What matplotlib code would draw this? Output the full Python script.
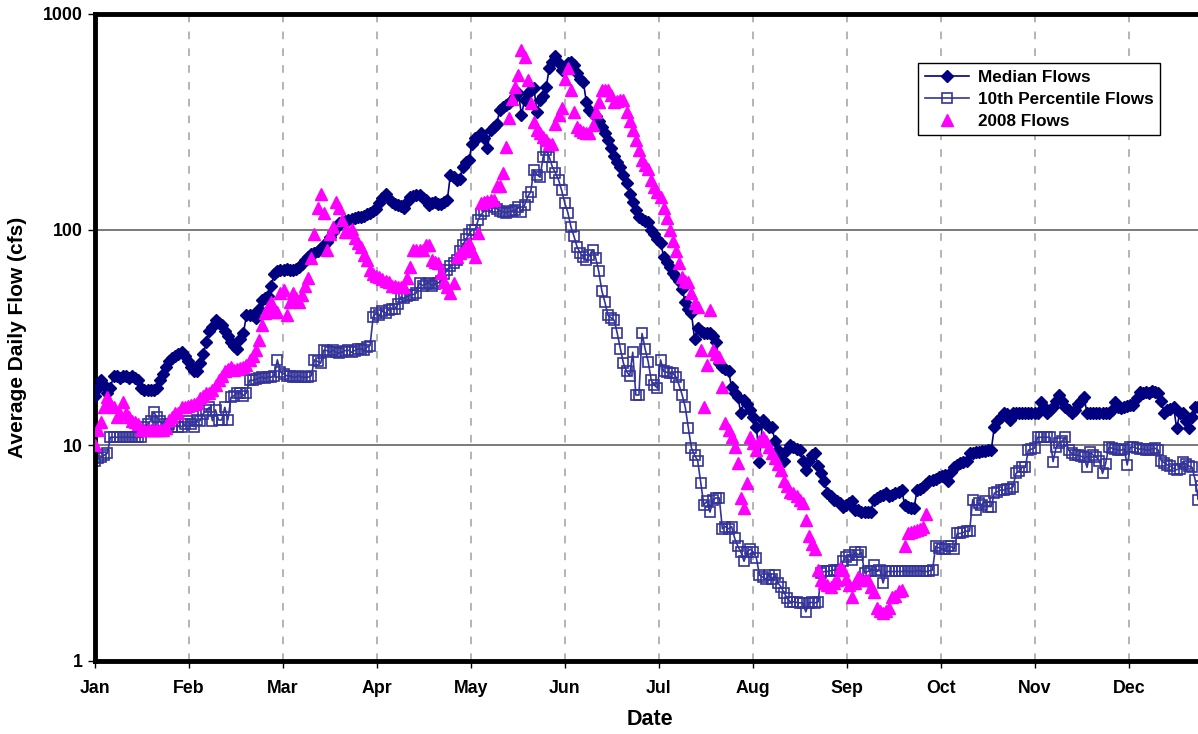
import numpy as np
import matplotlib.pyplot as plt

plt.rcParams['font.family'] = ['Liberation Sans', 'DejaVu Sans']
plt.rcParams['font.weight'] = 'bold'

months = ['Jan', 'Feb', 'Mar', 'Apr', 'May', 'Jun',
          'Jul', 'Aug', 'Sep', 'Oct', 'Nov', 'Dec']

# daily median flows, day 0 = Jan 1
median_flows = [
    17, 18.5, 20, 19, 17.5, 18.5, 21, 21, 20.5, 21,
    21, 20.5, 21, 20.5, 20, 18.5, 18, 18, 18, 18,
    18.5, 20, 21.5, 23, 24.5, 25.5, 26, 26.5, 27, 26,
    24.5, 23, 22, 22, 24, 26.5, 30, 34, 35.5, 38,
    37, 36, 34, 32, 30, 29, 28, 31, 33, 40,
    40, 40, 39, 43, 47, 48, 49, 55, 62, 64,
    65, 65, 66, 65, 65, 66, 67, 69, 72, 75,
    77, 78, 80, 82, 85, 88, 92, 97, 102, 107,
    108, 110, 111, 112, 113, 114, 115, 116, 118, 119,
    122, 125, 133, 140, 147, 138, 135, 132, 130, 128,
    126, 135, 141, 143, 144, 145, 140, 137, 130, 133,
    134, 132, 131, 134, 137, 180, 175, 170, 172, 195,
    205, 210, 250, 265, 270, 280, 265, 240, 290, 300,
    310, 360, 370, 380, 385, 400, 415, 430, 340, 400,
    430, 445, 455, 350, 400, 415, 460, 560, 600, 640,
    595, 550, 570, 590, 600, 580, 530, 500, 485, 390,
    360, 345, 335, 320, 300, 280, 260, 240, 220, 205,
    195, 180, 165, 147, 135, 123, 115, 112, 110, 108,
    100, 95, 90, 87, 75, 71, 67, 63, 60, 58,
    53, 46, 43, 41, 31, 35, 34, 33, 33, 33,
    32, 30, 24, 23, 22.5, 22, 18.6, 17.5, 16.7, 14.1,
    16.2, 15.5, 14.6, 13.5, 12.2, 8.4, 13.1, 12.5, 12.2, 12.2,
    10.5, 9.5, 9, 8.5, 9.5, 10, 9.8, 9.6, 9.5, 8.5,
    7.7, 8.5, 9, 9.2, 8, 7.4, 6.8, 6.0, 5.8, 5.6,
    5.5, 5.4, 5.2, 5.3, 5.4, 5.5, 5.0, 5.0, 4.9, 4.9,
    4.9, 4.9, 5.6, 5.7, 5.8, 5.9, 6.0, 5.8, 5.9, 6.0,
    6.1, 6.2, 5.3, 5.2, 5.1, 5.1, 6.2, 6.3, 6.4, 6.6,
    6.8, 6.9, 7.0, 7.1, 7.2, 7.3, 6.8, 7.5, 7.9, 8.1,
    8.3, 8.4, 8.5, 9.2, 9.2, 9.3, 9.3, 9.4, 9.4, 9.5,
    9.5, 12.2, 13, 13.5, 14.1, 14, 13.1, 14.1, 14.1, 14.1,
    14.1, 14.1, 14.1, 14.1, 14.1, 14.1, 15.9, 15, 14.1, 14.5,
    15, 16, 17.1, 16, 15, 14.5, 14.1, 14.5, 15.5, 16,
    16.7, 14.1, 14.1, 14.1, 14.1, 14.1, 14.1, 14.1, 14.1, 14.5,
    15.9, 15, 14.9, 15, 15.2, 15.3, 15.4, 16.5, 17.7, 17.5,
    17.7, 17.5, 17.8, 17.6, 17.5, 16, 14.1, 14.5, 14.8, 15,
    12, 14.1, 14.1, 13, 12, 13.5, 15, 15, 15.5, 15,
    15, 15.5, 16, 16, 16,
]

# daily 10th percentile flows
p10_flows = [
    8.5, 8.7, 8.8, 9.0, 9.2, 10.9, 10.9, 10.9, 10.9, 10.9,
    10.9, 10.9, 10.9, 10.9, 10.9, 10.9, 12.2, 12.5, 13, 14.3,
    13.5, 13, 12.5, 12.2, 12.5, 12.2, 13, 12.2, 12.2, 12.5,
    13, 12.5, 12.2, 13.1, 13, 14, 14.5, 15, 13, 14.6,
    13.1, 13.1, 15, 13.1, 16.7, 17, 17.5, 17.5, 17, 17.5,
    20, 20, 20.2, 20.5, 20.7, 20.5, 20.7, 20.7, 21, 24.9,
    21.9, 21.5, 21, 21, 20.7, 20.7, 21, 20.7, 20.7, 20.7,
    21, 24.9, 24.5, 24, 27.6, 27.5, 27, 27.6, 27, 26.8,
    27, 27.5, 27.6, 27, 27.5, 28, 28, 27.6, 28.5, 29,
    39.4, 41, 40, 42, 41, 42.5, 43, 43, 45, 48.7,
    48, 49, 50, 50, 50.9, 56.6, 55, 56, 56.6, 55,
    56, 56.6, 58, 62, 65, 68, 70, 72, 80, 85,
    90, 95, 100, 100, 111, 118, 122, 128, 133, 127,
    125, 122, 121, 120, 121, 122, 123, 127, 121, 130,
    142, 150, 189, 180, 175, 217, 233, 217, 195, 183,
    170, 152, 133, 120, 103, 93, 83, 78, 75, 72,
    76, 80.6, 74, 64, 52, 46, 40, 39, 38, 33,
    28, 24, 22, 21, 27, 17.1, 17.1, 33, 28, 24.4,
    20, 19, 18.4, 24.9, 22, 21.8, 21.6, 21.6, 20.7, 19,
    17.1, 15, 12, 9.7, 9, 8.5, 6.7, 5.3, 5.5, 4.9,
    5.6, 5.7, 5.7, 4.1, 4.2, 4.1, 4.2, 3.7, 3.4, 3.2,
    2.9, 3.2, 3.3, 3.2, 3.0, 2.5, 2.45, 2.4, 2.5, 2.4,
    2.5, 2.3, 2.2, 2.07, 1.95, 1.88, 1.88, 1.87, 1.86, 1.86,
    1.69, 1.86, 1.87, 1.86, 1.88, 2.56, 2.6, 2.6, 2.62, 2.64,
    2.64, 2.6, 2.9, 3.04, 3.1, 2.94, 3.2, 3.1, 3.2, 2.56,
    2.6, 2.62, 2.79, 2.6, 2.64, 2.3, 2.6, 2.6, 2.6, 2.6,
    2.6, 2.6, 2.62, 2.6, 2.6, 2.6, 2.62, 2.62, 2.6, 2.6,
    2.62, 2.64, 3.4, 3.35, 3.3, 3.3, 3.4, 3.4, 3.3, 3.9,
    3.9, 3.95, 4.0, 4.0, 5.6, 5.0, 5.4, 5.3, 5.5, 5.2,
    5.2, 6.0, 6.1, 6.2, 6.2, 6.3, 6.3, 6.4, 7.4, 7.6,
    7.9, 7.9, 9.5, 9.6, 9.7, 10.9, 10.9, 10.9, 10.9, 10.9,
    8.4, 9.8, 10.2, 10.5, 10.9, 9.5, 9.2, 9.0, 9.0, 8.9,
    8.8, 7.9, 9.3, 9.0, 8.8, 8.5, 7.4, 8.2, 9.8, 9.7,
    9.6, 9.5, 9.5, 9.6, 8.1, 9.8, 9.8, 9.7, 9.6, 9.6,
    9.5, 9.5, 9.6, 9.7, 9.5, 8.5, 8.3, 8.1, 8.0, 7.8,
    7.7, 7.8, 8.4, 8.2, 8.0, 7.9, 6.9, 5.6, 6.5, 7,
    7, 7, 7, 7, 7,
]

# 2008 daily flows (record ends late September)
flows_2008 = [
    10, 11.8, 12.8, 15, 16.7, 15.5, 15, 13.5, 14, 15.9,
    14.1, 13.5, 13, 12.8, 12.5, 11.8, 11.8, 11.8, 11.8, 11.8,
    11.8, 11.8, 11.8, 12, 13.1, 13.5, 14.1, 14.1, 15, 15,
    15.2, 15.4, 15.6, 15.7, 16.5, 17, 17.5, 17.5, 18, 19,
    20, 21, 22, 22.5, 23, 22.4, 22.5, 22.8, 23, 23.5,
    24.9, 26, 27.6, 30.9, 36.3, 41, 44, 46, 41.5, 41.5,
    51, 52.5, 40, 46, 51, 48, 46, 50, 55, 59.5,
    73.5, 95, 126, 147, 119, 80.6, 95, 103, 134, 126,
    111, 98, 98, 101, 91, 87, 83, 76, 72, 65,
    62, 61, 60, 59, 58, 57, 55, 55, 54, 54,
    54, 59.5, 67, 80.6, 80.6, 80.6, 80.6, 85, 85, 72,
    71, 70, 63, 57, 54, 51, 56.6, 75, 78, 80,
    83, 87, 80, 75, 96, 133, 135, 136, 137, 137,
    160, 160, 183, 241, 330, 405, 460, 520, 680, 630,
    495, 385, 315, 290, 280, 270, 260, 250, 250, 310,
    340, 365, 500, 560, 445, 350, 300, 290, 285, 280,
    280, 305, 350, 390, 445, 445, 445, 420, 390, 395,
    400, 400, 350, 320, 290, 260, 233, 210, 200, 190,
    170, 158, 150, 142, 126, 113, 100, 89, 80, 70,
    60, 58, 57, 51, 45.6, 44, 27.6, 15, 23.6, 42.5,
    27.6, 26.5, 25.7, 18.6, 12.7, 11.8, 10.9, 9.8, 8.3, 5.7,
    5.1, 6.7, 10.9, 10.2, 9.5, 10.5, 10.9, 10.5, 9.8, 9.2,
    8.7, 8.2, 7.7, 6.8, 6.5, 6.1, 6.0, 5.8, 5.6, 5.4,
    4.5, 3.8, 3.5, 3.3, 2.64, 2.37, 2.3, 2.25, 2.2, 2.3,
    2.37, 2.7, 2.64, 2.4, 2.25, 1.98, 2.3, 2.45, 2.4, 2.37,
    2.37, 2.2, 2.09, 1.76, 1.7, 1.67, 1.7, 1.76, 1.98, 2.0,
    2.1, 2.13, 3.4, 3.9, 3.95, 4.0, 4.05, 4.1, 4.2, 4.8,
]

days_med = np.arange(len(median_flows))
days_p10 = np.arange(len(p10_flows))
days_2008 = np.arange(len(flows_2008))

fig = plt.figure(figsize=(11.98, 7.34), dpi=100)
# plot frame runs past the right edge of the figure
ax = fig.add_axes([0.0793, 0.0995, 0.9416, 0.8815])

ax.plot(days_med, median_flows, color='#000080', lw=1.2, marker='D', ms=6,
        mfc='#000080', mec='#000080', label='Median Flows', zorder=3)
ax.plot(days_p10, p10_flows, color='#333399', lw=1.2, marker='s', ms=7.5,
        mfc='none', mec='#333399', mew=1.2, label='10th Percentile Flows', zorder=2)
ax.plot(days_2008, flows_2008, ls='none', marker='^', ms=8,
        mfc='#FF00FF', mec='#FF00FF', label='2008 Flows', zorder=4)

ax.set_yscale('log')
ax.set_ylim(1, 1000)
ax.set_yticks([1, 10, 100, 1000])
ax.set_yticklabels(['1', '10', '100', '1000'])
ax.yaxis.set_minor_locator(plt.NullLocator())

month_pos = np.arange(12) * 365 / 12
ax.set_xlim(0, 365)
ax.set_xticks(month_pos)
ax.set_xticklabels(months)

# gridlines: solid at decades, dashed at month starts
for yv in [10, 100]:
    ax.axhline(yv, color='#707070', lw=1.3, zorder=1)
for xv in month_pos[1:]:
    ax.axvline(xv, color='#a0a0a0', lw=1.1, ls=(0, (5, 6)), zorder=1)

for side in ['left', 'top', 'bottom', 'right']:
    ax.spines[side].set_linewidth(3.5)
    ax.spines[side].set_color('black')

ax.tick_params(axis='both', which='major', direction='out', length=5,
               width=1, colors='black', labelsize=12.8)
ax.tick_params(axis='x', pad=9)
ax.tick_params(axis='y', pad=4)
for lbl in ax.get_xticklabels() + ax.get_yticklabels():
    lbl.set_fontweight('bold')

ax.set_xlabel('Date', fontsize=15.5, fontweight='bold')
ax.xaxis.set_label_coords((650 - 95) / 1128, -0.075)
ax.set_ylabel('Average Daily Flow (cfs)', fontsize=15, fontweight='bold')
ax.yaxis.set_label_coords(-0.0605, 0.5)

leg = ax.legend(loc='upper left', bbox_to_anchor=(918 / 1198, 1 - 63 / 734),
                bbox_transform=fig.transFigure, borderaxespad=0, frameon=True,
                fancybox=False, edgecolor='black', framealpha=1, borderpad=0.4,
                labelspacing=0.4, handlelength=2.6, handletextpad=0.5,
                prop={'weight': 'bold', 'size': 12.3})
leg.get_frame().set_linewidth(1.0)

fig.savefig('out.png', dpi=100)
